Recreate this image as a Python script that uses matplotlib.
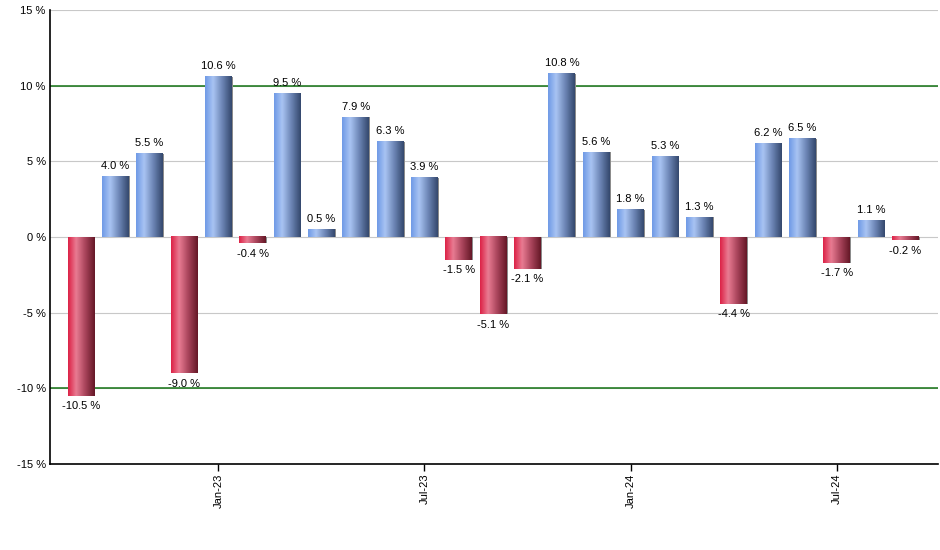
import matplotlib.pyplot as plt
import numpy as np
from matplotlib.colors import LinearSegmentedColormap

plt.rcParams["font.family"] = ["Liberation Sans", "DejaVu Sans"]

months = ["Sep-22", "Oct-22", "Nov-22", "Dec-22", "Jan-23", "Feb-23", "Mar-23", "Apr-23",
          "May-23", "Jun-23", "Jul-23", "Aug-23", "Sep-23", "Oct-23", "Nov-23", "Dec-23",
          "Jan-24", "Feb-24", "Mar-24", "Apr-24", "May-24", "Jun-24", "Jul-24", "Aug-24",
          "Sep-24"]
returns = [-10.5, 4.0, 5.5, -9.0, 10.6, -0.4, 9.5, 0.5, 7.9, 6.3, 3.9, -1.5, -5.1, -2.1,
           10.8, 5.6, 1.8, 5.3, 1.3, -4.4, 6.2, 6.5, -1.7, 1.1, -0.2]
tick_months = ["Jan-23", "Jul-23", "Jan-24", "Jul-24"]
yticks = [-15, -10, -5, 0, 5, 10, 15]

blue_cmap = LinearSegmentedColormap.from_list(
    "blue", [(0, "#6f9ae6"), (0.3, "#a9c4f3"), (0.65, "#6b84b4"), (1, "#34486d")])
red_cmap = LinearSegmentedColormap.from_list(
    "red", [(0, "#dc2246"), (0.3, "#e97c93"), (0.65, "#a8435a"), (1, "#651827")])

fig = plt.figure(figsize=(9.4, 5.5), dpi=100)
ax = fig.add_axes([50 / 940, 86 / 550, 888 / 940, 454 / 550])

x = np.arange(len(returns))
width = 0.78
grad = np.linspace(0, 1, 64).reshape(1, -1)

for xi, v in zip(x, returns):
    # thin gray shadow on the right/bottom edge
    ax.bar(xi + 0.03, v, width=width, bottom=0, color="#8c8c8c", zorder=3)
    cmap = blue_cmap if v >= 0 else red_cmap
    ax.imshow(grad, cmap=cmap, aspect="auto", interpolation="bicubic",
              extent=[xi - width / 2, xi + width / 2, 0, v], zorder=4)
    label = f"{v:.1f} %"
    if v >= 0:
        ax.annotate(label, (xi, v), xytext=(0, 4), textcoords="offset points",
                    ha="center", va="bottom", fontsize=8, zorder=5)
    else:
        ax.annotate(label, (xi, v), xytext=(0, -4), textcoords="offset points",
                    ha="center", va="top", fontsize=8, zorder=5)

ax.set_xlim(-0.9, 24.95)
ax.set_ylim(-15, 15)

ax.set_yticks(yticks)
ax.set_yticklabels([f"{t} %" for t in yticks], fontsize=8)
ax.tick_params(axis="y", length=0, pad=3)
ax.yaxis.grid(True, color="#c8c8c8", linewidth=0.8, zorder=0)
ax.set_axisbelow(True)

ax.axhline(10, color="#137313", linewidth=1.1, zorder=2)
ax.axhline(-10, color="#137313", linewidth=1.1, zorder=2)

ax.set_xticks([months.index(m) for m in tick_months])
ax.set_xticklabels(tick_months, rotation=90, fontsize=8)
ax.tick_params(axis="x", length=5, width=1, pad=2)

for side in ["top", "right"]:
    ax.spines[side].set_visible(False)
ax.spines["left"].set_linewidth(1.2)
ax.spines["bottom"].set_linewidth(1.2)

fig.savefig("out.png", dpi=100)
